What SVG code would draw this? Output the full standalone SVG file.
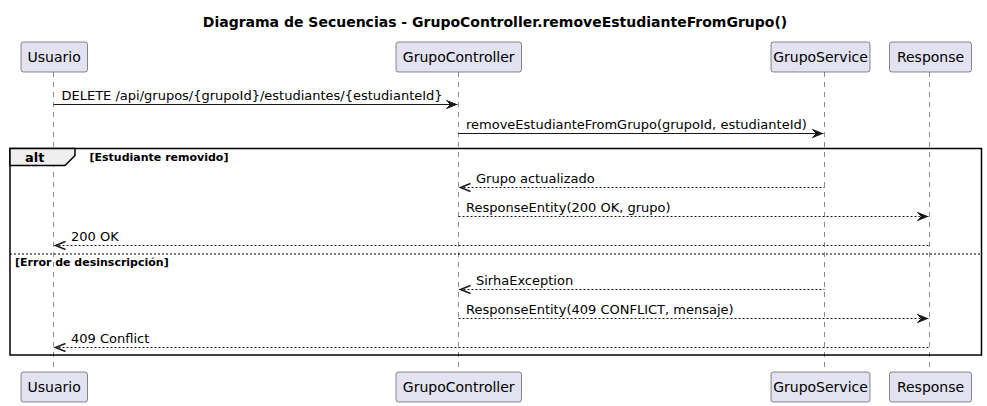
<svg xmlns="http://www.w3.org/2000/svg" width="987" height="406" viewBox="0 0 987 406">
<style>
text{font-family:"DejaVu Sans","Liberation Sans",sans-serif;fill:#000}
.title{font-size:14px;font-weight:bold}
.pt{font-size:14px}
.msg{font-size:13px}
.b{font-weight:bold}
.part{fill:#E2E2F0;stroke:#181818;stroke-width:0.5}
.life{stroke:#181818;stroke-width:0.5;stroke-dasharray:5,5;fill:none}
.sync{stroke:#181818;stroke-width:1;fill:none}
.open{stroke:#181818;stroke-width:1.5;fill:none}
.ret{stroke:#181818;stroke-width:1;stroke-dasharray:2,2;fill:none}
.head{fill:#181818;stroke:#181818;stroke-width:1}
</style>
<rect width="987" height="406" fill="#FFFFFF"/>
<text class="title" x="495" y="27" text-anchor="middle">Diagrama de Secuencias - GrupoController.removeEstudianteFromGrupo()</text>

<g id="lifelines">
<line class="life" x1="53.5" y1="72" x2="53.5" y2="372"/>
<line class="life" x1="458.5" y1="72" x2="458.5" y2="372"/>
<line class="life" x1="824.5" y1="72" x2="824.5" y2="372"/>
<line class="life" x1="929.5" y1="72" x2="929.5" y2="372"/>
</g>

<g id="Usuario">
<rect class="part" x="21" y="42" width="66.5" height="30" rx="2.5"/>
<text class="pt" x="54.2" y="62" text-anchor="middle">Usuario</text>
<rect class="part" x="21" y="372" width="66.5" height="30" rx="2.5"/>
<text class="pt" x="54.2" y="392" text-anchor="middle">Usuario</text>
</g>
<g id="GrupoController">
<rect class="part" x="396" y="42" width="125.5" height="30" rx="2.5"/>
<text class="pt" x="458.7" y="62" text-anchor="middle">GrupoController</text>
<rect class="part" x="396" y="372" width="125.5" height="30" rx="2.5"/>
<text class="pt" x="458.7" y="392" text-anchor="middle">GrupoController</text>
</g>
<g id="GrupoService">
<rect class="part" x="771" y="42" width="99" height="30" rx="2.5"/>
<text class="pt" x="820.5" y="62" text-anchor="middle">GrupoService</text>
<rect class="part" x="771" y="372" width="99" height="30" rx="2.5"/>
<text class="pt" x="820.5" y="392" text-anchor="middle">GrupoService</text>
</g>
<g id="Response">
<rect class="part" x="889.5" y="42" width="82" height="30" rx="2.5"/>
<text class="pt" x="930.5" y="62" text-anchor="middle">Response</text>
<rect class="part" x="889.5" y="372" width="82" height="30" rx="2.5"/>
<text class="pt" x="930.5" y="392" text-anchor="middle">Response</text>
</g>

<g id="alt-frame">
<rect x="10" y="148.5" width="971.5" height="206.5" fill="none" stroke="#000" stroke-width="1.5"/>
<polygon points="10,148.5 75,148.5 75,155.5 65,165.5 10,165.5" fill="#EEEEEE" stroke="#000" stroke-width="1.5"/>
<text class="msg b" x="25" y="161.5">alt</text>
<text class="b" font-size="11" x="89.5" y="160.5">[Estudiante removido]</text>
<line x1="10" y1="254" x2="981.5" y2="254" stroke="#000" stroke-width="1" stroke-dasharray="2,2"/>
<text class="b" font-size="11" x="15" y="265.5">[Error de desinscripción]</text>
</g>

<g id="connectors">
<line class="sync" x1="53.5" y1="104.5" x2="457.5" y2="104.5"/>
<polygon class="head" points="446.5,100.5 456.5,104.5 446.5,108.5 450.5,104.5"/>
<text class="msg" x="61.5" y="99.5">DELETE /api/grupos/{grupoId}/estudiantes/{estudianteId}</text>

<line class="sync" x1="458.5" y1="133.5" x2="823.5" y2="133.5"/>
<polygon class="head" points="812.5,129.5 822.5,133.5 812.5,137.5 816.5,133.5"/>
<text class="msg" x="466" y="128.5">removeEstudianteFromGrupo(grupoId, estudianteId)</text>

<line class="ret" x1="459.5" y1="187.5" x2="824.5" y2="187.5"/>
<polyline class="open" points="470.5,183.5 460.5,187.5 470.5,191.5"/>
<text class="msg" x="476" y="182.5">Grupo actualizado</text>

<line class="ret" x1="458.5" y1="216.5" x2="928.5" y2="216.5"/>
<polygon class="head" points="917.5,212.5 927.5,216.5 917.5,220.5 921.5,216.5"/>
<text class="msg" x="466" y="211.5">ResponseEntity(200 OK, grupo)</text>

<line class="ret" x1="54.5" y1="245.5" x2="929.5" y2="245.5"/>
<polyline class="open" points="65.5,241.5 55.5,245.5 65.5,249.5"/>
<text class="msg" x="71" y="240.5">200 OK</text>

<line class="ret" x1="459.5" y1="289.5" x2="824.5" y2="289.5"/>
<polyline class="open" points="470.5,285.5 460.5,289.5 470.5,293.5"/>
<text class="msg" x="476" y="284.5">SirhaException</text>

<line class="ret" x1="458.5" y1="318.5" x2="928.5" y2="318.5"/>
<polygon class="head" points="917.5,314.5 927.5,318.5 917.5,322.5 921.5,318.5"/>
<text class="msg" x="466" y="313.5">ResponseEntity(409 CONFLICT, mensaje)</text>

<line class="ret" x1="54.5" y1="347.5" x2="929.5" y2="347.5"/>
<polyline class="open" points="65.5,343.5 55.5,347.5 65.5,351.5"/>
<text class="msg" x="71" y="342.5">409 Conflict</text>
</g>
</svg>
